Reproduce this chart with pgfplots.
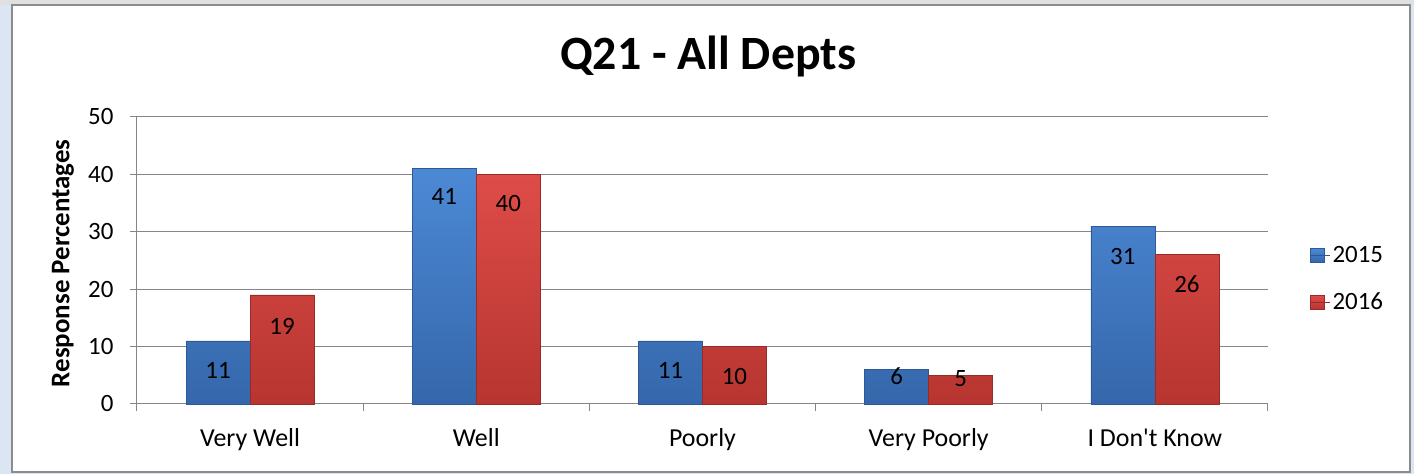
\documentclass[border=0pt]{standalone}
\usepackage{pgfplots}
\pgfplotsset{compat=1.18}
\usepackage{pgfplotstable}
\usepackage{fontspec}
\setmainfont{Carlito}
\newfontfamily\plaincarlito{Carlito}
\definecolor{bgblue}{HTML}{DCE6F2}
\definecolor{bggray}{HTML}{E0E0E0}
\definecolor{framegray}{HTML}{8C8C8C}
\definecolor{gridgray}{HTML}{868686}
\definecolor{btop}{HTML}{4C89D5}
\definecolor{bbot}{HTML}{3567AB}
\definecolor{bedge}{HTML}{2D5A96}
\definecolor{rtop}{HTML}{DE4C48}
\definecolor{rbot}{HTML}{B73530}
\definecolor{redge}{HTML}{962B28}

\pgfplotstableread{
x y off
0 11 30
1 41 28
2 11 30
3 6 7
4 31 30
}\tableA
\pgfplotstableread{
x y off
0 19 31
1 40 29
2 10 30
3 5 3
4 26 29
}\tableB

\begin{document}
\begin{tikzpicture}[x=1bp,y=1bp]
\fill[bgblue] (-137,-70) rectangle (1277,404);
\fill[bggray] (-137,399) rectangle (1277,404);
\fill[white,draw=framegray,line width=1.2bp] (-125,-68) rectangle (1273,399);
\begin{axis}[
  at={(0,0)}, anchor=south west,
  scale only axis,
  width=1131bp, height=287bp,
  ybar=0pt,
  bar width=0.283,
  xmin=-0.5, xmax=4.5,
  ymin=0, ymax=50,
  ytick={0,10,...,50},
  xtick={0,1,2,3,4},
  xticklabels={Very Well,Well,Poorly,Very Poorly,{\plaincarlito I Don't Know}},
  minor xtick={-0.5,0.5,...,4.5},
  major x tick style={draw=none},
  tick align=outside,
  major tick length=7bp,
  minor tick length=7bp,
  every tick/.style={gridgray, line width=1bp},
  minor x tick style={gridgray, line width=1bp},
  axis x line*=bottom,
  axis y line*=left,
  axis line style={gridgray, line width=1bp, -},
  ymajorgrids,
  grid style={gridgray, line width=1bp},
  /pgf/number format/assume math mode=true,
  yticklabel style={font=\fontsize{25}{28}\selectfont, xshift=-13bp},
  xticklabel style={font=\fontsize{26}{29}\selectfont, yshift=-14bp},
  title={Q21 - All Depts},
  title style={at={(axis description cs:0.505,1.146)}, anchor=base, font=\fontsize{48}{52}\selectfont\bfseries},
  ylabel={Response Percentages},
  ylabel style={at={(axis description cs:-0.0654,0.49)}, anchor=center, font=\fontsize{27}{30}\selectfont\bfseries},
  nodes near coords,
  visualization depends on={\thisrow{off} \as \off},
  every node near coord/.append style={anchor=center, yshift={-\off*1bp}, font=\fontsize{25}{28}\selectfont, text=black},
  legend style={at={(axis description cs:1.037,0.436)}, anchor=west, draw=none, fill=none, inner sep=0pt, row sep=25bp, font=\fontsize{25}{28}\selectfont, legend cell align=left},
  legend image code/.code={\path[#1] (0bp,-7bp) rectangle (14bp,7bp); \path (0bp,0bp) -- (20bp,0bp);},
  clip=false,
]
\addplot[top color=btop, bottom color=bbot, draw=bedge, line width=0.6bp] table[x=x,y=y] {\tableA};
\addplot[top color=rtop, bottom color=rbot, draw=redge, line width=0.6bp] table[x=x,y=y] {\tableB};
\legend{2015,2016}
\end{axis}
\pgfresetboundingbox
\useasboundingbox (-137,-70) rectangle (1277,404);
\end{tikzpicture}
\end{document}
